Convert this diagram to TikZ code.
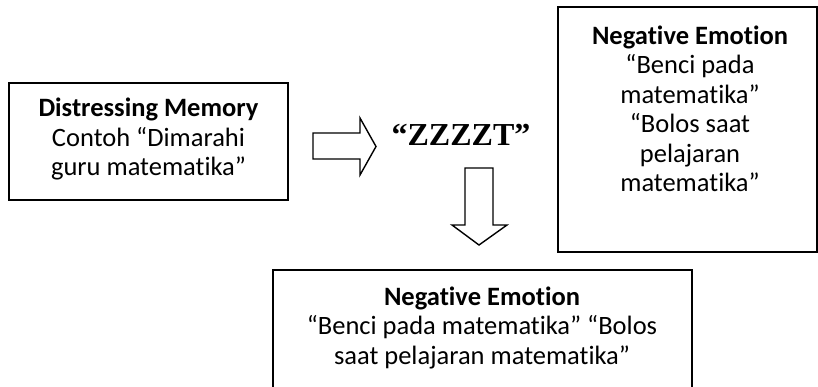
\documentclass[tikz,border=0pt]{standalone}
\usepackage{fontspec}
\setmainfont{Carlito}[Ligatures=NoCommon]
\newfontfamily\zfont{Liberation Serif}
\begin{document}
\begin{tikzpicture}[x=1pt,y=-1pt,
  boxstyle/.style={draw=black, line width=1.6pt, inner sep=0pt},
  txtstyle/.style={align=center, inner sep=0pt, font=\fontsize{26.5}{29.5}\selectfont},
  blockarrow/.style={draw=black, line width=1.4pt, fill=white, line join=miter}]
\useasboundingbox (0,0) rectangle (818,387);
\clip (0,0) rectangle (818,387);
% left box
\node[boxstyle, minimum width=279pt, minimum height=117pt] (dm) at (148.5,141.5) {};
\node[txtstyle, anchor=north] (dmt) at (148.5,98) {\textbf{Distressing Memory}\\Contoh “Dimarahi\\guru matematika”};
% right arrow
\coordinate (ra) at (313,133);
\draw[blockarrow] (ra) -- (360,133) -- (360,118) -- (376,146.5) -- (360,175) -- (360,159) -- (313,159) -- cycle;
% ZZZZT
\node[anchor=base, inner sep=0pt, font=\zfont\bfseries\fontsize{32}{38}\selectfont] (zz) at (461,146) {“ZZZZT”};
% right box
\node[boxstyle, minimum width=259pt, minimum height=245pt] (nr) at (687.5,129.5) {};
\node[txtstyle, anchor=north] (nrt) at (690,25.5) {\textbf{Negative Emotion}\\“Benci pada\\matematika”\\“Bolos saat\\pelajaran\\matematika”};
% down arrow
\coordinate (da) at (465,168);
\draw[blockarrow] (da) -- (493,168) -- (493,225) -- (507,225) -- (479,245) -- (452,225) -- (465,225) -- cycle;
% bottom box
\node[boxstyle, minimum width=419pt, minimum height=160pt, anchor=north west] (nb) at (272,269) {};
\node[txtstyle, anchor=north] (nbt) at (482,286.5) {\textbf{Negative Emotion}\\“Benci pada matematika” “Bolos\\saat pelajaran matematika”};
\end{tikzpicture}
\end{document}
